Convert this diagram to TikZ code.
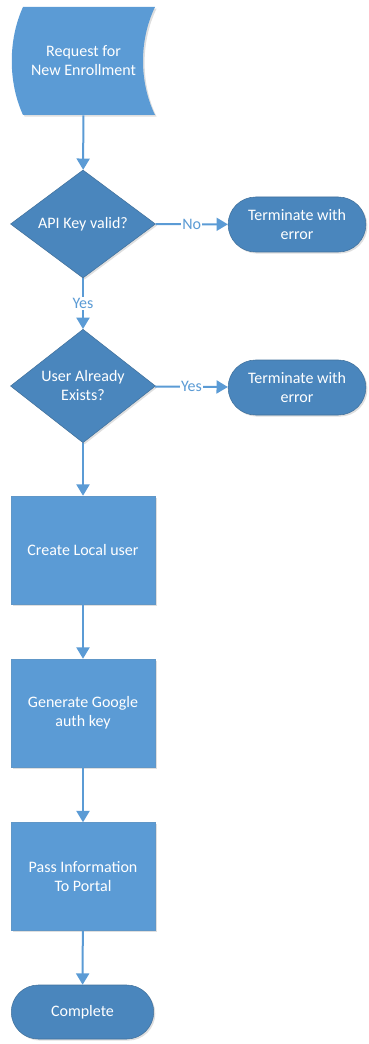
\documentclass[tikz,border=0pt]{standalone}
\usepackage{fontspec}
\setmainfont{Carlito}
\usetikzlibrary{arrows.meta,shapes.geometric,shapes.misc,shadows}
\definecolor{boxblue}{RGB}{91,155,213}
\definecolor{darkblue}{RGB}{74,134,189}
\definecolor{edgeblue}{RGB}{65,113,156}
\tikzset{
	txt/.style={text=white,font=\fontsize{12}{14.25}\selectfont,align=center},
	shade/.style={drop shadow={opacity=0.25,shadow xshift=1.2pt,shadow yshift=-1.2pt}},
	process/.style={txt,shade,rectangle,fill=boxblue,draw=boxblue!85!gray,minimum width=108pt,minimum height=81pt},
	decision/.style={txt,shade,diamond,fill=darkblue,draw=edgeblue,minimum width=108.75pt,minimum height=81pt,inner sep=0pt},
	termin/.style={txt,shade,rounded rectangle,fill=darkblue,draw=edgeblue,minimum width=110pt,minimum height=41.25pt},
	link/.style={draw=boxblue,line width=1.5pt,-{Triangle[width=9.75pt,length=8.5pt]}},
	lbl/.style={fill=white,text=boxblue,font=\fontsize{12}{14}\selectfont,inner sep=1pt}
}

\begin{document}
\begin{tikzpicture}[x=0.75pt,y=-0.75pt]
			\useasboundingbox (0,0) rectangle (368,1044);
			\fill[boxblue,shade] (23,7) -- (155,7) .. controls (139,40) and (139,82) .. (155,115) -- (23,115) .. controls (8,82) and (8,40) .. (23,7) -- cycle;
			\node[txt,minimum width=107.25pt,minimum height=81pt] (req) at (83.5,61) {Request for\\New Enrollment};
			\node[decision] (key) at (83,224) {API Key valid?};
			\node[termin] (err1) at (297,224.5) {Terminate with\\error};
			\node[decision] (exists) at (83,386) {User Already\\Exists?};
			\node[termin] (err2) at (297,387.5) {Terminate with\\error};
			\node[process] (create) at (83,550) {Create Local user};
			\node[process] (gauth) at (83,713) {Generate Google\\auth key};
			\node[process] (pass) at (83,876.5) {Pass Information\\To Portal};
			\node[termin,minimum width=113.5pt,minimum height=40.5pt] (done) at (82.5,1012) {Complete};
			\draw[link] (req) -- (key);
			\draw[link] (key) -- node[lbl]{No} (err1);
			\draw[link] (key) -- node[lbl]{Yes} (exists);
			\draw[link] (exists) -- node[lbl]{Yes} (err2);
			\draw[link] (exists) -- (create);
			\draw[link] (create) -- (gauth);
			\draw[link] (gauth) -- (pass);
			\draw[link] (pass) -- (done);
		\end{tikzpicture}
\end{document}
